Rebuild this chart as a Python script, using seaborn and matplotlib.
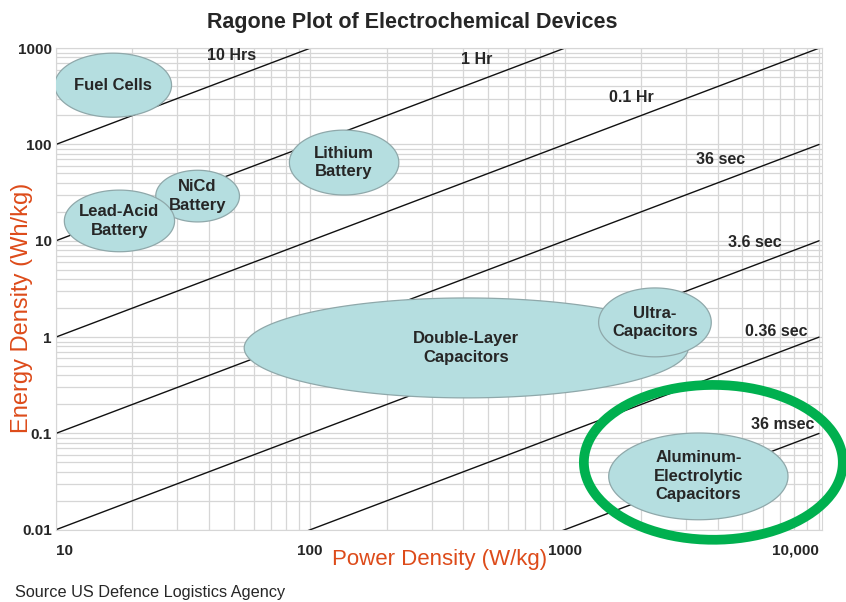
import numpy as np
import pandas as pd
import matplotlib.pyplot as plt
import seaborn as sns

# Discharge-time lines (hours) and where their labels sit along the power axis
times_h = [10, 1, 0.1, 0.01, 0.001, 0.0001, 0.00001]
time_labels = ['10 Hrs', '1 Hr', '0.1 Hr', '36 sec', '3.6 sec', '0.36 sec', '36 msec']
label_power = [49, 452, 1830, 4090, 5610, 6780, 7220]

# Device regions (power W/kg, energy Wh/kg)
devices = ['Fuel Cells', 'NiCd\nBattery', 'Lead-Acid\nBattery', 'Lithium\nBattery',
           'Double-Layer\nCapacitors', 'Ultra-\nCapacitors',
           'Aluminum-\nElectrolytic\nCapacitors']
p_min = [9.9, 24.7, 10.8, 82.8, 55, 1360, 1490]
p_max = [28.5, 52.7, 29.3, 223, 3060, 3770, 7550]
e_min = [192, 15.7, 7.7, 29.9, 0.234, 0.624, 0.0127]
e_max = [887, 54, 33.6, 141, 2.55, 3.24, 0.101]

# highlighted region
hl_p = [1190, 12400]
hl_e = [0.00787, 0.319]

x_ticks = [10, 100, 1000, 10000]
x_ticklabels = ['10', '100', '1000', '10,000']
y_ticks = [0.01, 0.1, 1, 10, 100, 1000]
y_ticklabels = ['0.01', '0.1', '1', '10', '100', '1000']

sns.set_style('white')
plt.rcParams['font.family'] = ['Liberation Sans', 'DejaVu Sans']

fig = plt.figure(figsize=(8.46, 6.02), dpi=100)
ax = fig.add_axes([0.066, 0.120, 0.906, 0.800])
ax.set_xscale('log')
ax.set_yscale('log')

# time lines
p_span = np.array([10, 10000])
for t in times_h:
    sns.lineplot(x=p_span, y=p_span * t, color='#111111', lw=1.0, ax=ax, zorder=2)
for t, lab, p in zip(times_h, time_labels, label_power):
    ax.text(p, p * t * 1.7, lab, ha='center', va='center', fontsize=11.5,
            fontweight='bold', zorder=5)


def ellipse(pr, er, n=200):
    th = np.linspace(0, 2 * np.pi, n)
    lx, ly = np.log10(pr), np.log10(er)
    cx, cy = np.mean(lx), np.mean(ly)
    rx, ry = (lx[1] - lx[0]) / 2, (ly[1] - ly[0]) / 2
    return 10 ** (cx + rx * np.cos(th)), 10 ** (cy + ry * np.sin(th)), 10 ** cx, 10 ** cy


for i, name in enumerate(devices):
    ex, ey, cx, cy = ellipse([p_min[i], p_max[i]], [e_min[i], e_max[i]])
    ax.fill(ex, ey, facecolor='#b5dee0', edgecolor='#8fa8aa', lw=0.9, zorder=3 + i * 0.01)
    ax.text(cx, cy, name, ha='center', va='center', fontsize=12, fontweight='bold',
            linespacing=1.3, zorder=4)

hx, hy, _, _ = ellipse(hl_p, hl_e)
ax.plot(hx, hy, color='#00b04f', lw=7, clip_on=False, zorder=6)

ax.set_xlim(10, 10300)
ax.set_ylim(0.01, 1000)
ax.grid(True, which='both', color='#d6d6d6', lw=0.9)
for s in ax.spines.values():
    s.set_color('#d6d6d6')
ax.tick_params(which='both', length=0)
ax.set_xticks(x_ticks, x_ticklabels, fontsize=11, fontweight='bold')
ax.set_yticks(y_ticks, y_ticklabels, fontsize=11, fontweight='bold')
ax.get_xticklabels()[0].set_ha('left')
ax.get_xticklabels()[-1].set_ha('right')
ax.tick_params(axis='x', pad=10)
ax.tick_params(axis='y', pad=3)
ax.set_xlabel('')
ax.set_ylabel('')

fig.text(0.026, 0.488, 'Energy Density (Wh/kg)', fontsize=17, color='#dd4b1a',
         rotation=90, ha='center', va='center')
fig.text(0.52, 0.070, 'Power Density (W/kg)', fontsize=16, color='#dd4b1a', ha='center', va='center')
fig.text(0.487, 0.963, 'Ragone Plot of Electrochemical Devices', fontsize=15.5,
         fontweight='bold', ha='center', va='center')
fig.text(0.018, 0.015, 'Source US Defence Logistics Agency', fontsize=11.7, ha='left', va='center')

fig.savefig('out.png', dpi=100)
